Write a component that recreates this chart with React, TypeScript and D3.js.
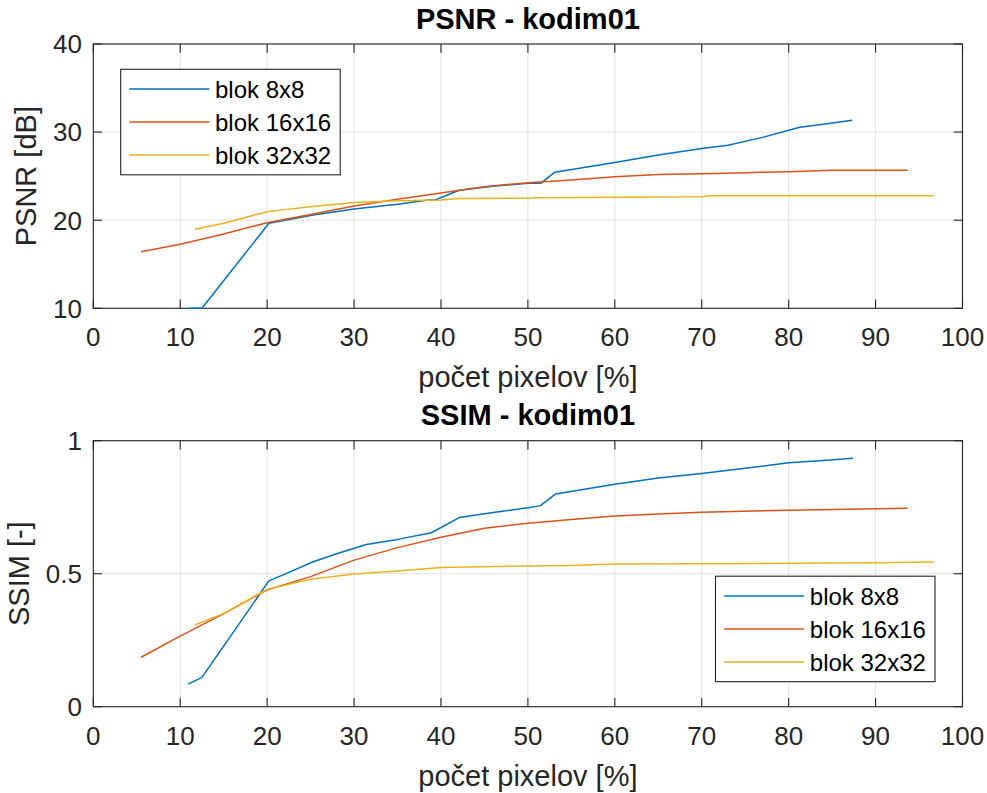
import React from "react";
import * as d3 from "d3";

// ---------- data ----------
const seriesNames = ["blok 8x8", "blok 16x16", "blok 32x32"];
const xTicks = [0, 10, 20, 30, 40, 50, 60, 70, 80, 90, 100];
const psnrTicks = [10, 20, 30, 40];
const ssimTicks = [0, 0.5, 1];

// PSNR [dB] vs. počet pixelov [%]
const psnr8: [number, number][] = [
  [10.9, 10.0], [12.5, 10.0], [20.2, 19.65], [25.3, 20.6], [30, 21.27], [35, 21.8],
  [38.5, 22.3], [39.3, 22.3], [42.1, 23.4], [46, 23.85], [50, 24.2], [51.5, 24.2],
  [53.1, 25.45], [60, 26.55], [65, 27.4], [70, 28.15], [73, 28.5], [77, 29.4],
  [80, 30.2], [81.3, 30.55], [84, 30.9], [87.3, 31.35],
];
const psnr16: [number, number][] = [
  [5.5, 16.42], [10, 17.26], [15, 18.43], [20, 19.72], [25, 20.65], [30, 21.6],
  [35, 22.37], [40, 23.1], [45, 23.8], [50, 24.26], [55, 24.56], [60, 24.94],
  [65, 25.2], [70, 25.28], [75, 25.4], [80, 25.5], [85, 25.66], [93.7, 25.66],
];
const psnr32: [number, number][] = [
  [11.7, 18.97], [15, 19.65], [20, 20.97], [22, 21.2], [25, 21.53], [30, 22.0],
  [35, 22.2], [40, 22.3], [42, 22.45], [50, 22.5], [51, 22.55], [70, 22.67],
  [71, 22.78], [96.7, 22.78],
];

// SSIM [-] vs. počet pixelov [%]
const ssim8: [number, number][] = [
  [10.9, 0.085], [12.5, 0.11], [20.2, 0.473], [22.5, 0.505], [25.3, 0.545],
  [28, 0.575], [31.4, 0.61], [35, 0.629], [38.9, 0.654], [42.1, 0.711], [46, 0.73],
  [50, 0.748], [51.4, 0.755], [53.2, 0.8], [60, 0.836], [65, 0.86], [70, 0.877],
  [75, 0.896], [80, 0.917], [84, 0.926], [87.4, 0.934],
];
const ssim16: [number, number][] = [
  [5.5, 0.186], [10, 0.265], [15, 0.35], [20, 0.439], [25, 0.489], [30, 0.551],
  [35, 0.598], [40, 0.637], [45, 0.671], [50, 0.69], [55, 0.704], [60, 0.717],
  [65, 0.724], [70, 0.731], [80, 0.739], [90, 0.744], [93.7, 0.746],
];
const ssim32: [number, number][] = [
  [11.7, 0.307], [15, 0.351], [20, 0.441], [25, 0.479], [30, 0.499], [35, 0.51],
  [40, 0.523], [50, 0.529], [55, 0.531], [60, 0.536], [80, 0.539], [90, 0.541],
  [96.7, 0.544],
];

// ---------- styles ----------
const COLORS = ["#0072BD", "#D95319", "#EDB120"];
const FONT = "'Liberation Sans', Arial, Helvetica, sans-serif";
const AX = "#262626";
const GRID = "#e3e3e3";

type PanelProps = {
  top: number;
  bottom: number;
  title: string;
  ylabel: string;
  yDomain: [number, number];
  yTicks: number[];
  yFmt: (v: number) => string;
  series: [number, number][][];
  legendPos: "tl" | "br";
  ylabelX: number;
};

const LEFT = 93.3;
const RIGHT = 962.5;

function Panel(p: PanelProps) {
  const x = d3.scaleLinear().domain([0, 100]).range([LEFT, RIGHT]);
  const y = d3.scaleLinear().domain(p.yDomain).range([p.bottom, p.top]);
  const line = d3
    .line<[number, number]>()
    .x((d) => x(d[0]))
    .y((d) => y(d[1]));
  const tl = 8.7;
  const legW = 219.5;
  const legH = 105.5;
  const legX = p.legendPos === "tl" ? LEFT + 27.4 : RIGHT - 27.5 - legW;
  const legY = p.legendPos === "tl" ? p.top + 25.3 : p.bottom - 25 - legH;
  const midX = (LEFT + RIGHT) / 2;
  return (
    <g>
      {/* grid */}
      {xTicks.map((t) => (
        <line key={"gx" + t} x1={x(t)} x2={x(t)} y1={p.top} y2={p.bottom} stroke={GRID} strokeWidth={1} />
      ))}
      {p.yTicks.map((t) => (
        <line key={"gy" + t} x1={LEFT} x2={RIGHT} y1={y(t)} y2={y(t)} stroke={GRID} strokeWidth={1} />
      ))}
      {/* box */}
      <rect x={LEFT} y={p.top} width={RIGHT - LEFT} height={p.bottom - p.top} fill="none" stroke={AX} strokeWidth={1.1} />
      {/* ticks */}
      {xTicks.map((t) => (
        <g key={"tx" + t}>
          <line x1={x(t)} x2={x(t)} y1={p.bottom} y2={p.bottom - tl} stroke={AX} strokeWidth={1.1} />
          <line x1={x(t)} x2={x(t)} y1={p.top} y2={p.top + tl} stroke={AX} strokeWidth={1.1} />
          <text x={x(t)} y={p.bottom + 38} textAnchor="middle" fontSize={26} fill={AX} fontFamily={FONT}>
            {t}
          </text>
        </g>
      ))}
      {p.yTicks.map((t) => (
        <g key={"ty" + t}>
          <line x1={LEFT} x2={LEFT + tl} y1={y(t)} y2={y(t)} stroke={AX} strokeWidth={1.1} />
          <line x1={RIGHT} x2={RIGHT - tl} y1={y(t)} y2={y(t)} stroke={AX} strokeWidth={1.1} />
          <text x={82} y={y(t) + 9.3} textAnchor="end" fontSize={26} fill={AX} fontFamily={FONT}>
            {p.yFmt(t)}
          </text>
        </g>
      ))}
      {/* series */}
      {p.series.map((s, i) => (
        <path key={"s" + i} d={line(s) || ""} fill="none" stroke={COLORS[i]} strokeWidth={1.5} strokeLinejoin="round" />
      ))}
      {/* labels */}
      <text x={midX} y={p.bottom + 79} textAnchor="middle" fontSize={29} fill={AX} fontFamily={FONT}>
        počet pixelov [%]
      </text>
      <text
        transform={`translate(${p.ylabelX},${(p.top + p.bottom) / 2}) rotate(-90)`}
        textAnchor="middle"
        fontSize={29}
        fill={AX}
        fontFamily={FONT}
      >
        {p.ylabel}
      </text>
      <text x={midX} y={p.top - 15.5} textAnchor="middle" fontSize={29} fontWeight="bold" fill="#000" fontFamily={FONT}>
        {p.title}
      </text>
      {/* legend */}
      <rect x={legX} y={legY} width={legW} height={legH} fill="#fff" stroke={AX} strokeWidth={1.1} />
      {seriesNames.map((n, i) => {
        const ly = legY + 19.7 + i * 33;
        return (
          <g key={"l" + i}>
            <line x1={legX + 8.6} x2={legX + 88.6} y1={ly} y2={ly} stroke={COLORS[i]} strokeWidth={1.5} />
            <text x={legX + 94.3} y={ly + 8.6} fontSize={24} fill="#000" fontFamily={FONT}>
              {n}
            </text>
          </g>
        );
      })}
    </g>
  );
}

export default function App() {
  return (
    <div style={{ position: "absolute", left: 0, top: 0, width: 987, height: 793, background: "#fff" }}>
      <svg width={987} height={793} style={{ display: "block" }}>
        <rect x={0} y={0} width={987} height={793} fill="#fff" />
        <Panel
          top={44}
          bottom={308.3}
          title="PSNR - kodim01"
          ylabel="PSNR [dB]"
          yDomain={[10, 40]}
          yTicks={psnrTicks}
          yFmt={(v) => String(v)}
          series={[psnr8, psnr16, psnr32]}
          legendPos="tl"
          ylabelX={36}
        />
        <Panel
          top={440.7}
          bottom={706.7}
          title="SSIM - kodim01"
          ylabel="SSIM [-]"
          yDomain={[0, 1]}
          yTicks={ssimTicks}
          yFmt={(v) => String(v)}
          series={[ssim8, ssim16, ssim32]}
          legendPos="br"
          ylabelX={29}
        />
      </svg>
    </div>
  );
}
